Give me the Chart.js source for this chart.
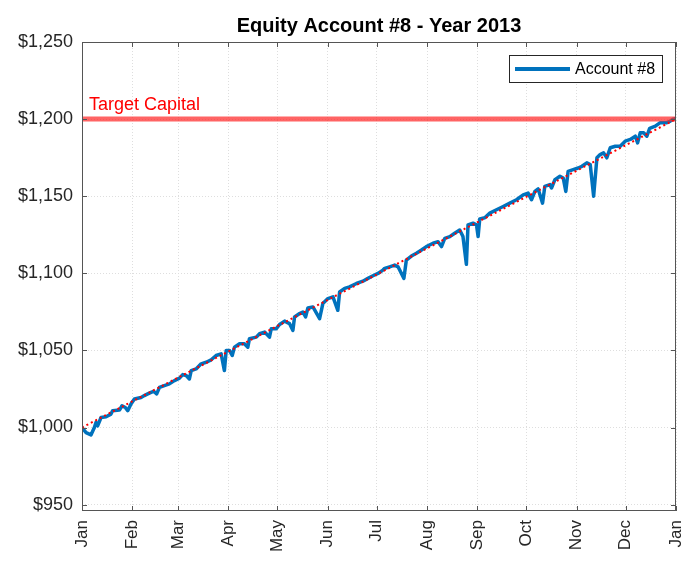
<!DOCTYPE html>
<html>
<head>
<meta charset="utf-8">
<script src="https://cdn.jsdelivr.net/npm/chart.js@4.4.0/dist/chart.umd.min.js"></script>
<style>
  html, body { margin: 0; padding: 0; background: #fff; }
  #wrap { width: 700px; height: 566px; }
</style>
</head>
<body>
<div id="wrap"><canvas id="chart" width="700" height="566"></canvas></div>
<script>
// --- Data (x = day of year 2013) ---
const days = [
  0, 2.5, 5.5, 7.6, 8.6, 9.6, 11.7, 14.8, 17.8, 18.8, 23, 24.6, 26.6, 28.1, 30.1,
  32.2, 36.3, 38.3, 40.4, 42.4, 44, 45.9, 47.6, 50.6, 53.7, 56.8, 59.9, 61.9, 64,
  66, 67.1, 70.1, 73.2, 76.3, 79.4, 82.4, 85.5, 87.5, 88.6, 90.6, 92.3, 93.7, 96.8,
  99.8, 101.9, 102.9, 107.1, 109.1, 112.2, 115.2, 116.3, 119.4, 121.4, 124.5, 127.5,
  129.6, 130.6, 133.7, 135.7, 137.4, 138.8, 141.9, 146, 148, 151.1, 154.2, 157.2,
  158.3, 161.4, 164.4, 168.6, 172.6, 175.7, 178.8, 181.9, 184.9, 186, 189, 192.1,
  194.2, 197.8, 199.3, 202.4, 205.5, 208.6, 211.6, 215.7, 218.8, 220.9, 222.9, 226,
  229, 232.1, 234.1, 236.2, 237.2, 240.3, 242.4, 243.4, 244.4, 247.5, 250.6, 254.7,
  258.8, 262.9, 267, 271.1, 274.1, 276.2, 278.3, 280.3, 283, 284.4, 287.5, 288.5,
  290.6, 293.7, 295.7, 297.3, 298.7, 301.8, 304.9, 307.2, 310.2, 312.3, 314.4, 316.4,
  318.4, 320.5, 322.5, 324.6, 327.7, 330.7, 333.8, 336.9, 340, 341.4, 343, 345.1,
  347.1, 348.8, 352.3, 355.3, 357.4, 359.4, 361.5, 363.5, 365
];
const equity = [
  1000, 996.7, 995.2, 1000, 1003.3, 1001.1, 1006.5, 1007, 1008.7, 1010.9, 1011.3, 1014.1, 1013, 1010.9, 1015.2,
  1018.5, 1019.5, 1020.7, 1021.8, 1022.8, 1023.5, 1021.8, 1026, 1027.2, 1028.3, 1030.4, 1032, 1034.3, 1033.7,
  1031.5, 1036.9, 1038, 1041.3, 1042.3, 1043.9, 1046.7, 1047.8, 1036.9, 1050, 1050, 1046.7, 1052.1, 1054.3,
  1054.3, 1052.1, 1057.6, 1058.6, 1060.8, 1061.9, 1058.6, 1064.1, 1064.1, 1066.8, 1069, 1067.4,
  1063, 1071.7, 1073.9, 1074.9, 1071.7, 1077.5, 1078.2, 1070.6, 1080.4, 1083.6, 1084.7, 1076,
  1087.9, 1090.2, 1091.2, 1093.4, 1094.9, 1096.7, 1098.4, 1099.9, 1102.1, 1103.2, 1104.2, 1105.3,
  1104.2, 1096.7, 1108.6, 1111.2, 1113, 1115.1, 1117.3, 1119.5, 1120.5, 1117.3, 1122.7, 1123.8,
  1126, 1128.1, 1123.8, 1105.8, 1131.4, 1132.5, 1131.4, 1123.8, 1135.3, 1136, 1139, 1141.2,
  1143.3, 1145.5, 1147.7, 1150.9, 1152, 1147.7, 1153.1, 1154.7, 1145.5, 1156.4, 1157.5, 1155.3,
  1160.7, 1162.9, 1161.8, 1153.1, 1166.1, 1167.2, 1168.3, 1169.4, 1171.6, 1170.5, 1150, 1174.9,
  1177, 1178.1, 1174.9, 1181.4, 1182.4, 1182.4, 1185.7, 1186.8, 1188.9, 1184.6, 1191.1, 1191.1,
  1188.9, 1194, 1195.4, 1197.7, 1197.7, 1197.7, 1198.7, 1200, 1200.5
];

// ideal path and target capital
const idealDays = [0, 365];
const idealValues = [1000, 1200];
const targetValue = 1200;

// axes
const monthDays = [0, 31, 59, 90, 120, 151, 181, 212, 243, 273, 304, 334, 365];
const monthLabels = ['Jan', 'Feb', 'Mar', 'Apr', 'May', 'Jun', 'Jul', 'Aug', 'Sep', 'Oct', 'Nov', 'Dec', 'Jan'];
const yTicks = [950, 1000, 1050, 1100, 1150, 1200, 1250];

const FONT = '"Liberation Sans", Arial, Helvetica, sans-serif';
const AXIS_COLOR = '#555555';
const TEXT_COLOR = '#262626';
const BLUE = '#0072BD';

// --- Decorations: box with inward ticks, title, legend, target label ---
const decorPlugin = {
  id: 'decor',
  afterDatasetsDraw(chart) {
    const { ctx, chartArea: a, scales } = chart;
    const x = scales.x, y = scales.y;
    ctx.save();

    // box
    ctx.strokeStyle = AXIS_COLOR;
    ctx.lineWidth = 1;
    ctx.strokeRect(a.left + 0.5, a.top + 0.5, a.right - a.left - 1, a.bottom - a.top - 1);

    // inward ticks on all four sides
    const tl = 5;
    ctx.beginPath();
    monthDays.forEach(d => {
      const px = Math.round(x.getPixelForValue(d)) + 0.5;
      ctx.moveTo(px, a.bottom); ctx.lineTo(px, a.bottom - tl);
      ctx.moveTo(px, a.top); ctx.lineTo(px, a.top + tl);
    });
    yTicks.forEach(v => {
      const py = Math.round(y.getPixelForValue(v)) + 0.5;
      ctx.moveTo(a.left, py); ctx.lineTo(a.left + tl, py);
      ctx.moveTo(a.right, py); ctx.lineTo(a.right - tl, py);
    });
    ctx.stroke();

    // target label
    ctx.fillStyle = '#ff0000';
    ctx.font = '18px ' + FONT;
    ctx.textAlign = 'left';
    ctx.textBaseline = 'alphabetic';
    ctx.fillText('Target Capital', a.left + 7, y.getPixelForValue(targetValue) - 9);

    // legend
    const lx = 509.5, ly = 55.5, lw = 153, lh = 27;
    ctx.fillStyle = '#ffffff';
    ctx.fillRect(lx, ly, lw, lh);
    ctx.strokeStyle = '#262626';
    ctx.lineWidth = 1;
    ctx.strokeRect(lx, ly, lw, lh);
    ctx.strokeStyle = BLUE;
    ctx.lineWidth = 4;
    ctx.beginPath();
    ctx.moveTo(515, ly + lh / 2);
    ctx.lineTo(570, ly + lh / 2);
    ctx.stroke();
    ctx.fillStyle = '#000000';
    ctx.font = '16px ' + FONT;
    ctx.textBaseline = 'middle';
    ctx.fillText('Account #8', 575, ly + lh / 2 + 1);

    // title
    ctx.font = 'bold 20px ' + FONT;
    ctx.textAlign = 'center';
    ctx.textBaseline = 'alphabetic';
    ctx.fillText('Equity Account #8 - Year 2013', (a.left + a.right) / 2, 32);

    ctx.restore();
  }
};

const ctxChart = document.getElementById('chart').getContext('2d');
new Chart(ctxChart, {
  type: 'line',
  data: {
    datasets: [
      {
        label: 'Account #8',
        data: days.map((d, i) => ({ x: d, y: equity[i] })),
        borderColor: BLUE,
        borderWidth: 3.5,
        pointRadius: 0,
        tension: 0,
        borderJoinStyle: 'round',
        order: 3
      },
      {
        label: 'Target',
        data: idealDays.map(d => ({ x: d, y: targetValue })),
        borderColor: 'rgba(255, 40, 40, 0.72)',
        borderWidth: 5,
        pointRadius: 0,
        order: 2
      },
      {
        label: 'Ideal',
        data: idealDays.map((d, i) => ({ x: d, y: idealValues[i] })),
        borderColor: '#ff0000',
        borderWidth: 2,
        borderDash: [2, 3],
        pointRadius: 0,
        order: 1
      }
    ]
  },
  options: {
    responsive: false,
    animation: false,
    devicePixelRatio: 1,
    layout: { padding: { top: 42, right: 24, left: 0, bottom: 0 } },
    plugins: {
      legend: { display: false },
      tooltip: { enabled: false }
    },
    scales: {
      x: {
        type: 'linear',
        min: 0,
        max: 365,
        afterBuildTicks: s => { s.ticks = monthDays.map(v => ({ value: v })); },
        afterFit: s => { s.height = 55; s.paddingLeft = 0; s.paddingRight = 0; },
        grid: { color: '#dedede', drawTicks: false },
        border: { display: false, dash: [1, 2] },
        ticks: {
          autoSkip: false,
          minRotation: 90,
          maxRotation: 90,
          padding: 9,
          color: TEXT_COLOR,
          font: { family: FONT, size: 17 },
          callback: (v, i) => monthLabels[i]
        }
      },
      y: {
        type: 'linear',
        min: 945.85,
        max: 1250,
        afterBuildTicks: s => { s.ticks = yTicks.map(v => ({ value: v })); },
        afterFit: s => { s.width = 82; s.paddingTop = 0; s.paddingBottom = 0; },
        grid: { color: '#dedede', drawTicks: false },
        border: { display: false, dash: [1, 2] },
        ticks: {
          padding: 9,
          color: TEXT_COLOR,
          font: { family: FONT, size: 18 },
          callback: v => '$' + v.toLocaleString('en-US')
        }
      }
    }
  },
  plugins: [decorPlugin]
});
</script>
</body>
</html>
